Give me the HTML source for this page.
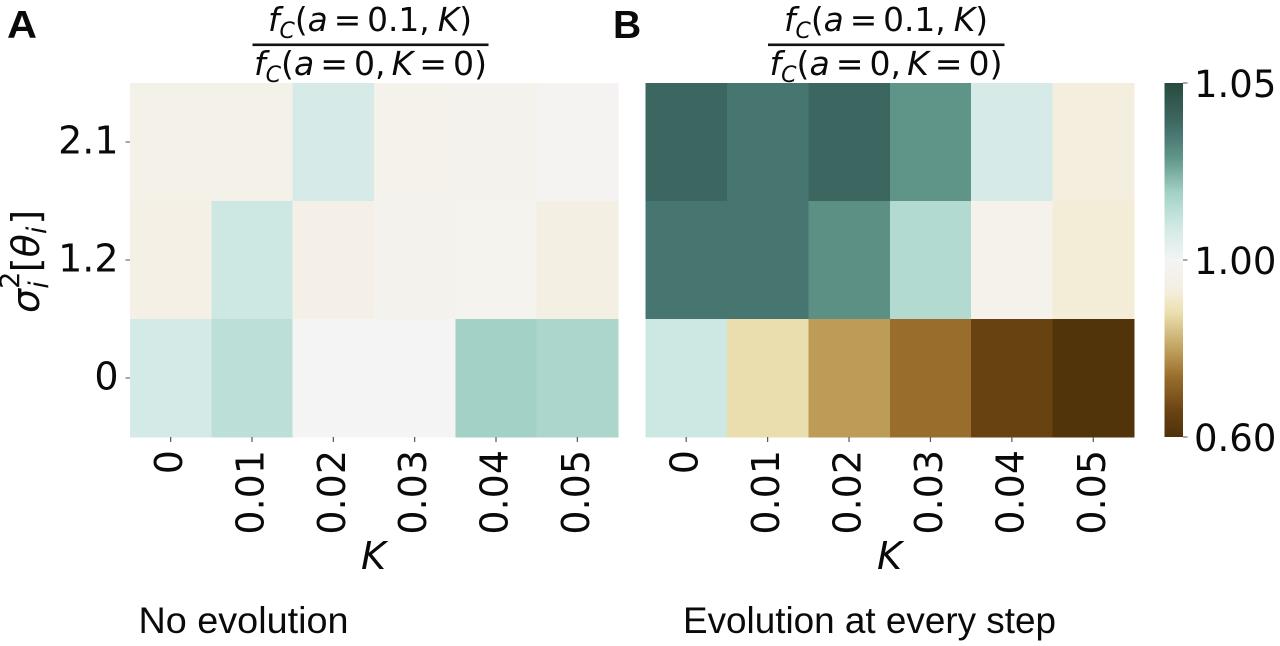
<!DOCTYPE html>
<html lang="en">
<head>
<meta charset="utf-8">
<title>Heatmaps of fC ratio</title>
<style>
html,body{margin:0;padding:0;background:#fff;width:1280px;height:646px;overflow:hidden}
svg{display:block;filter:blur(0.35px)}
text{fill:#0a0a0a;font-family:"DejaVu Sans","Liberation Sans",sans-serif}
.it{font-style:italic}
.cap{font-family:"Liberation Sans",sans-serif;font-size:37px}
.letter{font-family:"Liberation Sans",sans-serif;font-weight:bold;font-size:39px}
.frac{font-size:33px}
</style>
</head>
<body>
<svg id="fig" xmlns="http://www.w3.org/2000/svg" width="1280" height="646" viewBox="0 0 1280 646">
  <rect width="1280" height="646" fill="#fff"/>
  <defs><linearGradient id="cbGrad" x1="0" y1="1" x2="0" y2="0"></linearGradient></defs>

  <text class="letter" x="7" y="38" textLength="30" lengthAdjust="spacingAndGlyphs">A</text>
  <text class="letter" x="613" y="38">B</text>

  <g>
    <text class="frac" x="268" y="31" textLength="204" lengthAdjust="spacingAndGlyphs"><tspan class="it">f</tspan><tspan class="it" font-size="22" dy="7">C</tspan><tspan dy="-7">(</tspan><tspan class="it">a</tspan><tspan dx="6">=</tspan><tspan dx="6">0.1,</tspan><tspan class="it" dx="8">K</tspan>)</text>
    <rect x="252.5" y="43.5" width="236" height="2.6" fill="#111"/>
    <text class="frac" x="254" y="75" textLength="233" lengthAdjust="spacingAndGlyphs"><tspan class="it">f</tspan><tspan class="it" font-size="22" dy="7">C</tspan><tspan dy="-7">(</tspan><tspan class="it">a</tspan><tspan dx="6">=</tspan><tspan dx="6">0,</tspan><tspan class="it" dx="6">K</tspan><tspan dx="6">=</tspan><tspan dx="6">0)</tspan></text>
  </g>
  <g>
    <text class="frac" x="784" y="31" textLength="204" lengthAdjust="spacingAndGlyphs"><tspan class="it">f</tspan><tspan class="it" font-size="22" dy="7">C</tspan><tspan dy="-7">(</tspan><tspan class="it">a</tspan><tspan dx="6">=</tspan><tspan dx="6">0.1,</tspan><tspan class="it" dx="8">K</tspan>)</text>
    <rect x="768" y="43.5" width="236.5" height="2.6" fill="#111"/>
    <text class="frac" x="769.5" y="75" textLength="233" lengthAdjust="spacingAndGlyphs"><tspan class="it">f</tspan><tspan class="it" font-size="22" dy="7">C</tspan><tspan dy="-7">(</tspan><tspan class="it">a</tspan><tspan dx="6">=</tspan><tspan dx="6">0,</tspan><tspan class="it" dx="6">K</tspan><tspan dx="6">=</tspan><tspan dx="6">0)</tspan></text>
  </g>

  <text transform="translate(39,313) rotate(-90)" font-size="38"><tspan class="it">σ</tspan><tspan font-size="27" dy="-20">2</tspan><tspan class="it" font-size="27" dx="-17" dy="29">i</tspan><tspan dx="9" dy="-9">[</tspan><tspan class="it">θ</tspan><tspan class="it" font-size="27" dy="7">i</tspan><tspan dx="2" dy="-7">]</tspan></text>

  <text class="it" x="361" y="569" font-size="38">K</text>
  <text class="it" x="877" y="569" font-size="38">K</text>

  <text class="cap" x="138.5" y="633" textLength="210" lengthAdjust="spacingAndGlyphs">No evolution</text>
  <text class="cap" x="683" y="633" textLength="373" lengthAdjust="spacingAndGlyphs">Evolution at every step</text>

  <g id="marks"></g>
</svg>
<script>
// --- chart data ---
var kLabels = ['0', '0.01', '0.02', '0.03', '0.04', '0.05'];
var sigmaLabels = ['2.1', '1.2', '0'];
var noEvolutionValues = [
  [0.956, 0.956, 1.008, 0.968, 0.976, 0.992],
  [0.944, 1.010, 0.950, 0.976, 0.982, 0.940],
  [1.0085, 1.0135, 1.000, 1.000, 1.019, 1.017]
];
var everyStepValues = [
  [1.040, 1.036, 1.040, 1.029, 1.008, 0.932],
  [1.036, 1.036, 1.030, 1.0155, 0.968, 0.920],
  [1.010, 0.880, 0.792, 0.736, 0.656, 0.608]
];
var colorbarTicks = [1.05, 1.00, 0.60];

// --- colour scale: position along the bar -> colour ---
var cmapPositions = [0, .07, .17, .24, .35, .40, .43, .47, .5, .58, .6, .635, .67, .69, .79, .86, .9, 1];
var cmapColors = ['#4e3209', '#694212', '#996e2d', '#bd9c58', '#ebdeae', '#f3ecd6', '#f4f0e6', '#f4f2ec', '#f4f4f4',
  '#d6ebe7', '#cde7e2', '#bce0d8', '#acd6cb', '#a3d1c5', '#5f9589', '#47756f', '#3c6660', '#284a3e'];
var vMin = 0.60, vCenter = 1.00, vMax = 1.05;

function norm(v) {
  if (v <= vCenter) return 0.5 * (v - vMin) / (vCenter - vMin);
  return 0.5 + 0.5 * (v - vCenter) / (vMax - vCenter);
}
function hexToRgb(h) {
  return [parseInt(h.slice(1, 3), 16), parseInt(h.slice(3, 5), 16), parseInt(h.slice(5, 7), 16)];
}
function colorAt(t) {
  t = Math.max(0, Math.min(1, t));
  for (var i = 1; i < cmapPositions.length; i++) {
    if (t <= cmapPositions[i]) {
      var f = (t - cmapPositions[i - 1]) / (cmapPositions[i] - cmapPositions[i - 1]);
      var a = hexToRgb(cmapColors[i - 1]), b = hexToRgb(cmapColors[i]);
      return 'rgb(' + Math.round(a[0] + (b[0] - a[0]) * f) + ',' + Math.round(a[1] + (b[1] - a[1]) * f) + ',' + Math.round(a[2] + (b[2] - a[2]) * f) + ')';
    }
  }
  return cmapColors[cmapColors.length - 1];
}

// --- layout and axes ---
var plotTop = 83, plotBottom = 437;
var panelA = { left: 130, right: 618, key: 'panel-a' };
var panelB = { left: 645.5, right: 1134, key: 'panel-b' };
var barLeft = 1164.5, barRight = 1183;

function colBand(panel) { return (panel.right - panel.left) / kLabels.length; }
function rowBand() { return (plotBottom - plotTop) / sigmaLabels.length; }
function xEdge(panel, i) { return panel.left + i * colBand(panel); }
function xCenter(panel, i) { return xEdge(panel, i) + colBand(panel) / 2; }
function yEdge(r) { return plotTop + r * rowBand(); }
function yCenter(r) { return yEdge(r) + rowBand() / 2; }
function barY(v) { return plotBottom - norm(v) * (plotBottom - plotTop); }

var NS = 'http://www.w3.org/2000/svg';
var marks = document.getElementById('marks');
function make(tag, attrs, parent) {
  var el = document.createElementNS(NS, tag);
  for (var k in attrs) el.setAttribute(k, attrs[k]);
  (parent || marks).appendChild(el);
  return el;
}

function drawPanel(panel, values) {
  values.forEach(function (row, r) {
    row.forEach(function (v, c) {
      var cell = make('rect', {
        x: xEdge(panel, c), y: yEdge(r),
        width: colBand(panel) + 0.3, height: rowBand() + 0.3,
        fill: colorAt(norm(v)), 'shape-rendering': 'crispEdges'
      });
      
      
    });
  });
  kLabels.forEach(function (lab, c) {
    var x = xCenter(panel, c);
    var tick = make('rect', { x: x - 0.6, y: plotBottom, width: 1.2, height: 5, fill: '#555' });
    
    
    var t = make('text', {
      transform: 'translate(' + (x + 11.5) + ',450) rotate(-90)',
      'text-anchor': 'end', 'font-size': 38
    });
    t.textContent = lab;
    
    
  });
}
drawPanel(panelA, noEvolutionValues);
drawPanel(panelB, everyStepValues);

// y axis on panel A
sigmaLabels.forEach(function (lab, r) {
  var y = yCenter(r);
  var tick = make('rect', { x: 125.5, y: y - 0.5, width: 4.5, height: 1, fill: '#555' });
  
  
  var t = make('text', { x: 118.5, y: y + 11.5, 'text-anchor': 'end', 'font-size': 38 });
  t.textContent = lab;
  
  
});

// colour bar
var grad = document.getElementById('cbGrad');
cmapPositions.forEach(function (p, i) {
  make('stop', { offset: p, 'stop-color': cmapColors[i] }, grad);
});
var bar = make('rect', {
  x: barLeft, y: plotTop, width: barRight - barLeft, height: plotBottom - plotTop, fill: 'url(#cbGrad)'
});


colorbarTicks.forEach(function (v) {
  var y = barY(v);
  var tick = make('rect', { x: barRight, y: y - 0.5, width: 4.5, height: 1, fill: '#555' });
  
  
  var t = make('text', { x: 1194, y: y + 14, 'font-size': 37 });
  t.textContent = v.toFixed(2);
  
  
});
</script>
</body>
</html>
